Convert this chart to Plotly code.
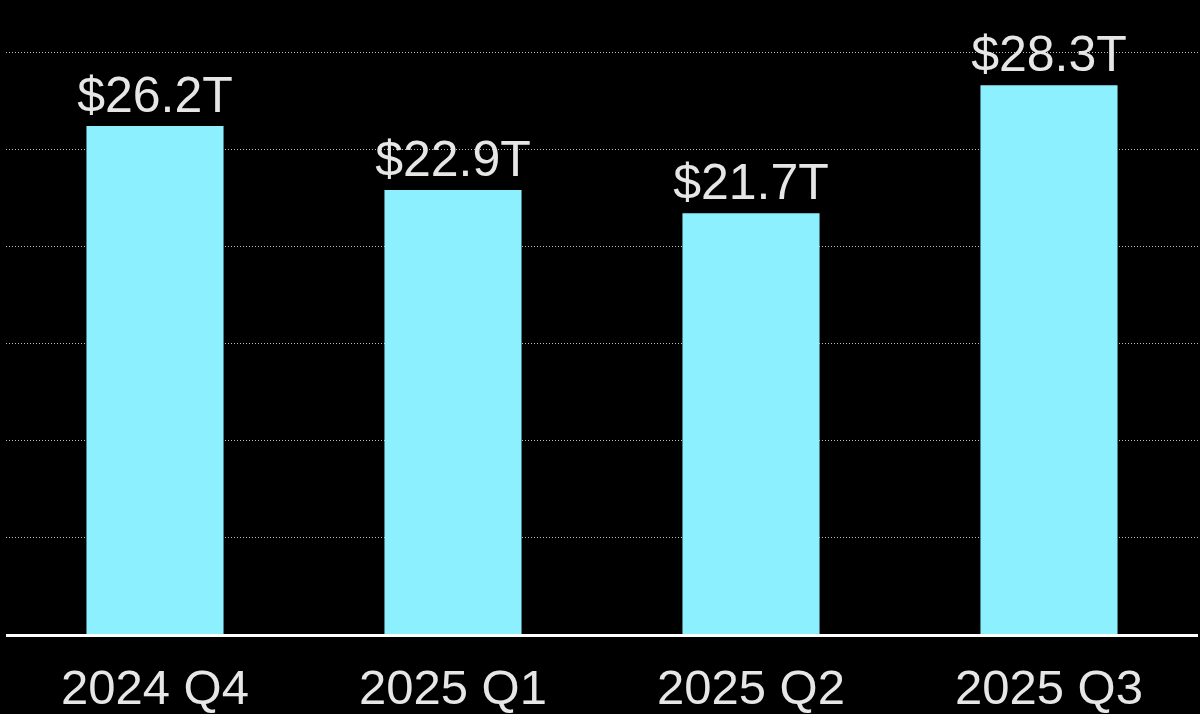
import plotly.graph_objects as go

categories = ["2024 Q4", "2025 Q1", "2025 Q2", "2025 Q3"]
values = [26.2, 22.9, 21.7, 28.3]
labels = ["$26.2T", "$22.9T", "$21.7T", "$28.3T"]

fig = go.Figure(go.Bar(
    x=categories, y=values, text=labels, textposition="outside",
    constraintext="none",
    marker=dict(color="#8cf0ff", line=dict(width=0)),
    textfont=dict(family="Liberation Sans, Arial, sans-serif", size=50, color="#e6e6e6"),
    cliponaxis=False,
))

fig.update_layout(
    width=1200, height=714,
    paper_bgcolor="black", plot_bgcolor="black",
    margin=dict(l=6, r=2, t=0, b=80),
    bargap=0.54,
    showlegend=False,
    xaxis=dict(
        showline=True, linecolor="white", linewidth=3,
        tickfont=dict(family="Liberation Sans, Arial, sans-serif", size=49, color="#e6e6e6"),
        ticks="outside", ticklen=8, tickcolor="black",
        showgrid=False,
    ),
    yaxis=dict(
        range=[0, 32.7], dtick=5, showticklabels=False,
        showgrid=True, gridcolor="#bdbdbd", gridwidth=1, griddash="1px,2px",
        zeroline=False, showline=False,
    ),
)

fig.write_html(
    "out.html",
    config={"displayModeBar": False},
    post_script="document.body.style.margin='0';document.body.style.background='black';",
)
